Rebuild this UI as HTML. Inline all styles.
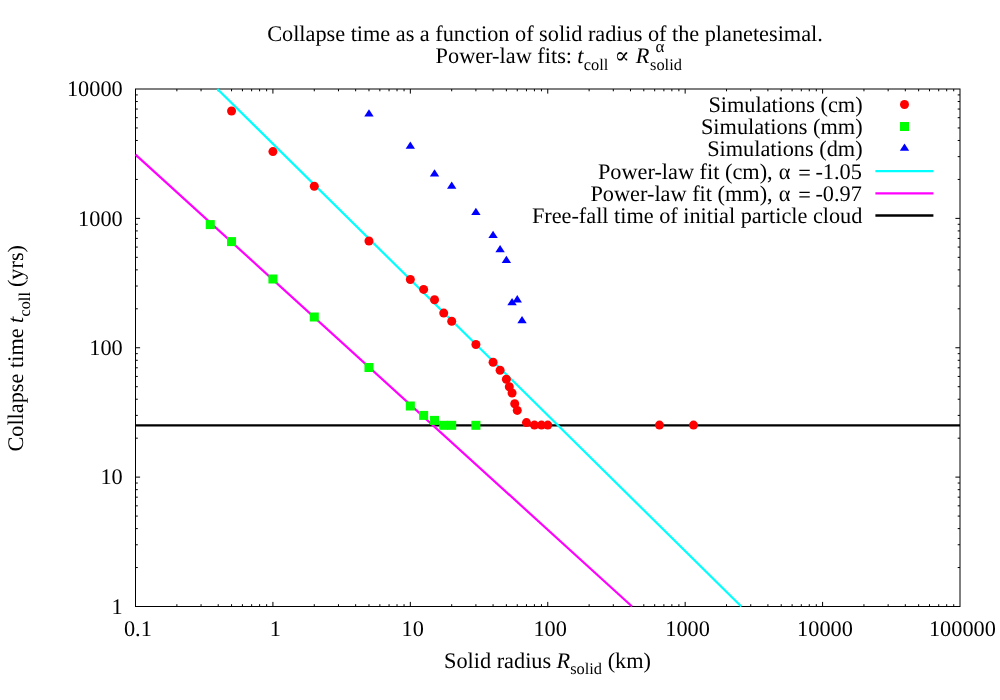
<!DOCTYPE html>
<html><head><meta charset="utf-8"><title>Collapse time</title>
<style>html,body{margin:0;padding:0;background:#fff;overflow:hidden}svg{display:block;will-change:transform}text{font-family:"Liberation Serif",serif;font-size:22.30px;fill:#000;text-rendering:geometricPrecision}.i{font-style:italic}.s{font-size:16.40px}</style></head><body>
<svg width="1000" height="700" viewBox="0 0 1000 700">
<rect width="1000" height="700" fill="#fff"/>
<g stroke="#000" stroke-width="1" fill="none">
<rect x="135.50" y="89.00" width="824.50" height="517.50"/>
<path d="M176.87 606.50v-2.30M176.87 89.00v2.30M201.06 606.50v-2.30M201.06 89.00v2.30M218.23 606.50v-2.30M218.23 89.00v2.30M231.55 606.50v-2.30M231.55 89.00v2.30M242.43 606.50v-2.30M242.43 89.00v2.30M251.63 606.50v-2.30M251.63 89.00v2.30M259.60 606.50v-2.30M259.60 89.00v2.30M266.63 606.50v-2.30M266.63 89.00v2.30M272.92 606.50v-4.60M272.92 89.00v4.60M314.28 606.50v-2.30M314.28 89.00v2.30M338.48 606.50v-2.30M338.48 89.00v2.30M355.65 606.50v-2.30M355.65 89.00v2.30M368.97 606.50v-2.30M368.97 89.00v2.30M379.85 606.50v-2.30M379.85 89.00v2.30M389.05 606.50v-2.30M389.05 89.00v2.30M397.02 606.50v-2.30M397.02 89.00v2.30M404.05 606.50v-2.30M404.05 89.00v2.30M410.33 606.50v-4.60M410.33 89.00v4.60M451.70 606.50v-2.30M451.70 89.00v2.30M475.90 606.50v-2.30M475.90 89.00v2.30M493.07 606.50v-2.30M493.07 89.00v2.30M506.38 606.50v-2.30M506.38 89.00v2.30M517.26 606.50v-2.30M517.26 89.00v2.30M526.46 606.50v-2.30M526.46 89.00v2.30M534.43 606.50v-2.30M534.43 89.00v2.30M541.46 606.50v-2.30M541.46 89.00v2.30M547.75 606.50v-4.60M547.75 89.00v4.60M589.12 606.50v-2.30M589.12 89.00v2.30M613.31 606.50v-2.30M613.31 89.00v2.30M630.48 606.50v-2.30M630.48 89.00v2.30M643.80 606.50v-2.30M643.80 89.00v2.30M654.68 606.50v-2.30M654.68 89.00v2.30M663.88 606.50v-2.30M663.88 89.00v2.30M671.85 606.50v-2.30M671.85 89.00v2.30M678.88 606.50v-2.30M678.88 89.00v2.30M685.17 606.50v-4.60M685.17 89.00v4.60M726.53 606.50v-2.30M726.53 89.00v2.30M750.73 606.50v-2.30M750.73 89.00v2.30M767.90 606.50v-2.30M767.90 89.00v2.30M781.22 606.50v-2.30M781.22 89.00v2.30M792.10 606.50v-2.30M792.10 89.00v2.30M801.30 606.50v-2.30M801.30 89.00v2.30M809.27 606.50v-2.30M809.27 89.00v2.30M816.30 606.50v-2.30M816.30 89.00v2.30M822.58 606.50v-4.60M822.58 89.00v4.60M863.95 606.50v-2.30M863.95 89.00v2.30M888.15 606.50v-2.30M888.15 89.00v2.30M905.32 606.50v-2.30M905.32 89.00v2.30M918.63 606.50v-2.30M918.63 89.00v2.30M929.51 606.50v-2.30M929.51 89.00v2.30M938.71 606.50v-2.30M938.71 89.00v2.30M946.68 606.50v-2.30M946.68 89.00v2.30M953.71 606.50v-2.30M953.71 89.00v2.30M135.50 567.55h2.30M960.00 567.55h-2.30M135.50 544.77h2.30M960.00 544.77h-2.30M135.50 528.61h2.30M960.00 528.61h-2.30M135.50 516.07h2.30M960.00 516.07h-2.30M135.50 505.83h2.30M960.00 505.83h-2.30M135.50 497.17h2.30M960.00 497.17h-2.30M135.50 489.66h2.30M960.00 489.66h-2.30M135.50 483.04h2.30M960.00 483.04h-2.30M135.50 477.12h4.60M960.00 477.12h-4.60M135.50 438.18h2.30M960.00 438.18h-2.30M135.50 415.40h2.30M960.00 415.40h-2.30M135.50 399.23h2.30M960.00 399.23h-2.30M135.50 386.70h2.30M960.00 386.70h-2.30M135.50 376.45h2.30M960.00 376.45h-2.30M135.50 367.79h2.30M960.00 367.79h-2.30M135.50 360.29h2.30M960.00 360.29h-2.30M135.50 353.67h2.30M960.00 353.67h-2.30M135.50 347.75h4.60M960.00 347.75h-4.60M135.50 308.80h2.30M960.00 308.80h-2.30M135.50 286.02h2.30M960.00 286.02h-2.30M135.50 269.86h2.30M960.00 269.86h-2.30M135.50 257.32h2.30M960.00 257.32h-2.30M135.50 247.08h2.30M960.00 247.08h-2.30M135.50 238.42h2.30M960.00 238.42h-2.30M135.50 230.91h2.30M960.00 230.91h-2.30M135.50 224.29h2.30M960.00 224.29h-2.30M135.50 218.38h4.60M960.00 218.38h-4.60M135.50 179.43h2.30M960.00 179.43h-2.30M135.50 156.65h2.30M960.00 156.65h-2.30M135.50 140.48h2.30M960.00 140.48h-2.30M135.50 127.95h2.30M960.00 127.95h-2.30M135.50 117.70h2.30M960.00 117.70h-2.30M135.50 109.04h2.30M960.00 109.04h-2.30M135.50 101.54h2.30M960.00 101.54h-2.30M135.50 94.92h2.30M960.00 94.92h-2.30"/>
</g>
<g fill="none" stroke-width="2.2" stroke-linecap="butt">
<path d="M135.5 425.45H960" stroke="#000"/>
<path d="M217.4 89L741.3 606.5" stroke="#00ffff"/>
<path d="M135.5 154.6L632.05 606.5" stroke="#ff00ff"/>
</g>
<g fill="#ff0000">
<circle cx="231.55" cy="111.00" r="4.5"/>
<circle cx="272.92" cy="151.60" r="4.5"/>
<circle cx="314.28" cy="186.20" r="4.5"/>
<circle cx="368.97" cy="241.00" r="4.5"/>
<circle cx="410.33" cy="279.50" r="4.5"/>
<circle cx="423.65" cy="289.40" r="4.5"/>
<circle cx="434.53" cy="299.80" r="4.5"/>
<circle cx="443.73" cy="313.10" r="4.5"/>
<circle cx="451.70" cy="321.30" r="4.5"/>
<circle cx="475.90" cy="344.50" r="4.5"/>
<circle cx="493.07" cy="362.20" r="4.5"/>
<circle cx="500.10" cy="370.30" r="4.5"/>
<circle cx="506.38" cy="379.30" r="4.5"/>
<circle cx="509.30" cy="386.70" r="4.5"/>
<circle cx="512.07" cy="393.00" r="4.5"/>
<circle cx="514.72" cy="403.70" r="4.5"/>
<circle cx="517.26" cy="410.40" r="4.5"/>
<circle cx="526.46" cy="422.60" r="4.5"/>
<circle cx="534.43" cy="425.10" r="4.5"/>
<circle cx="541.46" cy="425.10" r="4.5"/>
<circle cx="547.75" cy="425.10" r="4.5"/>
<circle cx="659.46" cy="425.10" r="4.5"/>
<circle cx="693.51" cy="425.10" r="4.5"/>
</g><g fill="#00ff00">
<rect x="205.76" y="220.10" width="9" height="9"/>
<rect x="227.05" y="237.10" width="9" height="9"/>
<rect x="268.42" y="274.50" width="9" height="9"/>
<rect x="309.78" y="312.50" width="9" height="9"/>
<rect x="364.47" y="363.00" width="9" height="9"/>
<rect x="405.83" y="401.50" width="9" height="9"/>
<rect x="419.15" y="410.90" width="9" height="9"/>
<rect x="430.03" y="415.90" width="9" height="9"/>
<rect x="439.23" y="420.80" width="9" height="9"/>
<rect x="447.20" y="420.80" width="9" height="9"/>
<rect x="471.40" y="420.80" width="9" height="9"/>
</g><g fill="#0000ff">
<path d="M368.97 109.20L373.67 116.50H364.27Z"/>
<path d="M410.33 141.40L415.03 148.70H405.63Z"/>
<path d="M434.53 169.20L439.23 176.50H429.83Z"/>
<path d="M451.70 181.50L456.40 188.80H447.00Z"/>
<path d="M475.90 207.70L480.60 215.00H471.20Z"/>
<path d="M493.07 230.70L497.77 238.00H488.37Z"/>
<path d="M500.10 245.00L504.80 252.30H495.40Z"/>
<path d="M506.38 255.70L511.08 263.00H501.68Z"/>
<path d="M512.07 297.90L516.77 305.20H507.37Z"/>
<path d="M517.26 295.10L521.96 302.40H512.56Z"/>
<path d="M522.04 315.90L526.74 323.20H517.34Z"/>
</g>
<circle cx="904.5" cy="104.50" r="4.5" fill="#ff0000"/>
<rect x="900" y="122.00" width="9" height="9" fill="#00ff00"/>
<g fill="#0000ff"><path d="M904.50 143.45L909.20 150.75H899.80Z"/></g>
<g stroke-width="2.3" fill="none">
<path d="M875.4 171.10H933.4" stroke="#00ffff"/>
<path d="M875.4 193.30H933.4" stroke="#ff00ff"/>
<path d="M875.4 215.50H933.4" stroke="#000"/>
</g>
<g text-anchor="end">
<text x="862.6" y="112.25">Simulations (cm)</text>
<text x="862.6" y="133.90">Simulations (mm)</text>
<text x="862.6" y="156.45">Simulations (dm)</text>
<text x="772.7" y="178.90">Power-law fit (cm),</text>
<text x="772.7" y="201.00">Power-law fit (mm),</text>
<text x="861.9" y="178.90">-1.05</text>
<text x="861.9" y="201.00">-0.97</text>
<text text-anchor="start" x="798.2" y="180.10">=</text>
<text text-anchor="start" x="798.2" y="202.20">=</text>
<text text-anchor="start" x="778.8" y="178.90">α</text>
<text text-anchor="start" x="778.8" y="201.00">α</text>
<text x="862.4" textLength="330.5" lengthAdjust="spacing" y="222.60">Free-fall time of initial particle cloud</text>
</g>
<g text-anchor="end">
<text x="122.7" y="613.80">1</text>
<text x="122.7" y="484.43">10</text>
<text x="122.7" y="355.05">100</text>
<text x="122.7" y="225.68">1000</text>
<text x="122.7" y="96.30">10000</text>
</g><g text-anchor="middle">
<text x="137.90" y="636.3">0.1</text>
<text x="275.32" y="636.3">1</text>
<text x="412.73" y="636.3">10</text>
<text x="550.15" y="636.3">100</text>
<text x="687.57" y="636.3">1000</text>
<text x="824.98" y="636.3">10000</text>
<text x="962.40" y="636.3">100000</text>
</g>
<text x="267.2" y="41.3" textLength="555.6" lengthAdjust="spacing">Collapse time as a function of solid radius of the planetesimal.</text>
<text x="435.6" y="63.1">Power-law fits: </text>
<text class="i" x="577.3" y="63.1">t</text>
<text class="s" x="583.8" y="69.5">coll</text>
<text x="622.0" y="63.1" text-anchor="middle" style="font-family:'Liberation Serif','DejaVu Serif',serif">∝</text>
<text class="i" x="635.8" y="63.1">R</text>
<text class="s" x="650.0" y="69.5">solid</text>
<text x="655.4" y="52.0" style="font-size:16.95px">α</text>
<text x="444.0" y="667.5">Solid radius </text>
<text class="i" x="556.6" y="667.5">R</text>
<text class="s" x="570.2" y="673.6">solid</text>
<text x="607.7" y="667.5">(km)</text>
<g transform="translate(23.3 451.6) rotate(-90)">
<text x="0" y="0">Collapse time </text>
<text class="i" x="128.6" y="0">t</text>
<text class="s" x="135.0" y="6.3">coll</text>
<text x="164.5" y="0">(yrs)</text>
</g>
</svg></body></html>
